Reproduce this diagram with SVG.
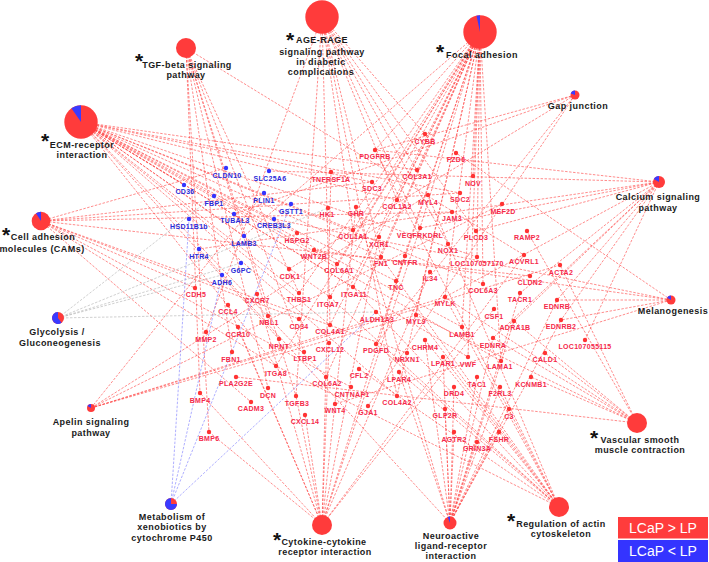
<svg xmlns="http://www.w3.org/2000/svg" width="709" height="562" viewBox="0 0 709 562">
<style>
.e line{stroke:#ff4040;stroke-width:0.75;stroke-dasharray:2.5 1.5;stroke-opacity:0.8}
.eb line{stroke:#7a7aff}
.eg line{stroke:#b0b0b0}
.gr circle{fill:#ff3333}
.gr text{fill:#f5284a}
.gb circle{fill:#3333ff}
.gb text{fill:#2a2ad8}
.g text{font-family:"Liberation Sans",Arial,sans-serif;font-weight:bold;font-size:7px;letter-spacing:0.3px;text-anchor:middle}
.hl{font-family:"Liberation Sans",Arial,sans-serif;font-weight:bold;font-size:9px;letter-spacing:0.45px;fill:#1a1a1a;text-anchor:middle}
.st{font-family:"Liberation Sans",Arial,sans-serif;font-weight:bold;font-size:21px;fill:#111;text-anchor:middle}
.hr{fill:#ff3b3b}
.hb{fill:#3a3aff}
.lg{font-family:"Liberation Sans",Arial,sans-serif;font-size:14px;fill:#fff;text-anchor:middle}
</style>
<rect width="709" height="562" fill="#fff"/>
<g id="connectors">
<g class="e" id="e-tgf">
<line x1="186" y1="48" x2="200" y2="393"/><line x1="186" y1="48" x2="209" y2="432"/><line x1="186" y1="48" x2="296" y2="396"/><line x1="186" y1="48" x2="268" y2="388"/><line x1="186" y1="48" x2="299" y2="293"/><line x1="186" y1="48" x2="304" y2="352"/><line x1="186" y1="48" x2="268" y2="316"/><line x1="186" y1="48" x2="232" y2="352"/><line x1="186" y1="48" x2="524" y2="255"/>
</g>
<g class="e" id="e-age">
<line x1="322" y1="17" x2="206" y2="332"/><line x1="322" y1="17" x2="296" y2="396"/><line x1="322" y1="17" x2="330" y2="325"/><line x1="322" y1="17" x2="397" y2="396"/><line x1="322" y1="17" x2="353" y2="230"/><line x1="322" y1="17" x2="397" y2="200"/><line x1="322" y1="17" x2="417" y2="170"/><line x1="322" y1="17" x2="420" y2="228"/><line x1="322" y1="17" x2="425" y2="134"/><line x1="322" y1="17" x2="476" y2="231"/><line x1="322" y1="17" x2="381" y2="257"/><line x1="322" y1="17" x2="448" y2="244"/>
</g>
<g class="e" id="e-focal">
<line x1="480" y1="32" x2="353" y2="230"/><line x1="480" y1="32" x2="397" y2="200"/><line x1="480" y1="32" x2="417" y2="170"/><line x1="480" y1="32" x2="330" y2="325"/><line x1="480" y1="32" x2="397" y2="396"/><line x1="480" y1="32" x2="337" y2="264"/><line x1="480" y1="32" x2="326" y2="377"/><line x1="480" y1="32" x2="483" y2="284"/><line x1="480" y1="32" x2="381" y2="257"/><line x1="480" y1="32" x2="396" y2="281"/><line x1="480" y1="32" x2="299" y2="293"/><line x1="480" y1="32" x2="330" y2="297"/><line x1="480" y1="32" x2="276" y2="366"/><line x1="480" y1="32" x2="353" y2="287"/><line x1="480" y1="32" x2="462" y2="327"/><line x1="480" y1="32" x2="501" y2="361"/><line x1="480" y1="32" x2="244" y2="236"/><line x1="480" y1="32" x2="468" y2="357"/><line x1="480" y1="32" x2="375" y2="150"/><line x1="480" y1="32" x2="376" y2="344"/><line x1="480" y1="32" x2="420" y2="228"/><line x1="480" y1="32" x2="445" y2="297"/><line x1="480" y1="32" x2="416" y2="315"/><line x1="480" y1="32" x2="473" y2="176"/><line x1="480" y1="32" x2="477" y2="257"/>
</g>
<g class="e" id="e-gap">
<line x1="575" y1="95" x2="368" y2="406"/><line x1="575" y1="95" x2="375" y2="150"/><line x1="575" y1="95" x2="376" y2="344"/><line x1="575" y1="95" x2="234" y2="214"/><line x1="575" y1="95" x2="289" y2="269"/>
</g>
<g class="e" id="e-ecm">
<line x1="81" y1="122" x2="353" y2="230"/><line x1="81" y1="122" x2="397" y2="200"/><line x1="81" y1="122" x2="417" y2="170"/><line x1="81" y1="122" x2="330" y2="325"/><line x1="81" y1="122" x2="397" y2="396"/><line x1="81" y1="122" x2="337" y2="264"/><line x1="81" y1="122" x2="326" y2="377"/><line x1="81" y1="122" x2="483" y2="284"/><line x1="81" y1="122" x2="381" y2="257"/><line x1="81" y1="122" x2="396" y2="281"/><line x1="81" y1="122" x2="299" y2="293"/><line x1="81" y1="122" x2="330" y2="297"/><line x1="81" y1="122" x2="276" y2="366"/><line x1="81" y1="122" x2="353" y2="287"/><line x1="81" y1="122" x2="462" y2="327"/><line x1="81" y1="122" x2="501" y2="361"/><line x1="81" y1="122" x2="468" y2="357"/><line x1="81" y1="122" x2="297" y2="233"/><line x1="81" y1="122" x2="460" y2="193"/><line x1="81" y1="122" x2="372" y2="182"/><line x1="81" y1="122" x2="279" y2="339"/><line x1="81" y1="122" x2="477" y2="257"/><line x1="81" y1="122" x2="244" y2="236"/><line x1="81" y1="122" x2="184" y2="185"/>
</g>
<g class="e" id="e-cam">
<line x1="41" y1="221" x2="226" y2="168"/><line x1="41" y1="221" x2="530" y2="276"/><line x1="41" y1="221" x2="195" y2="288"/><line x1="41" y1="221" x2="452" y2="212"/><line x1="41" y1="221" x2="460" y2="193"/><line x1="41" y1="221" x2="372" y2="182"/><line x1="41" y1="221" x2="299" y2="319"/><line x1="41" y1="221" x2="351" y2="387"/><line x1="41" y1="221" x2="407" y2="353"/><line x1="41" y1="221" x2="251" y2="402"/><line x1="41" y1="221" x2="276" y2="366"/>
</g>
<g class="e" id="e-calcium">
<line x1="659" y1="182" x2="514" y2="321"/><line x1="659" y1="182" x2="493" y2="338"/><line x1="659" y1="182" x2="557" y2="300"/><line x1="659" y1="182" x2="561" y2="320"/><line x1="659" y1="182" x2="520" y2="293"/><line x1="659" y1="182" x2="476" y2="231"/><line x1="659" y1="182" x2="375" y2="150"/><line x1="659" y1="182" x2="420" y2="228"/><line x1="659" y1="182" x2="445" y2="297"/><line x1="659" y1="182" x2="585" y2="340"/><line x1="659" y1="182" x2="199" y2="249"/><line x1="659" y1="182" x2="269" y2="171"/>
</g>
<g class="e eg" id="e-glyco">
<line x1="58" y1="318" x2="328" y2="208"/><line x1="58" y1="318" x2="376" y2="312"/><line x1="58" y1="318" x2="214" y2="196"/><line x1="58" y1="318" x2="241" y2="263"/><line x1="58" y1="318" x2="222" y2="275"/>
</g>
<g class="e" id="e-melano">
<line x1="671" y1="300" x2="557" y2="300"/><line x1="671" y1="300" x2="561" y2="320"/><line x1="671" y1="300" x2="314" y2="250"/><line x1="671" y1="300" x2="335" y2="404"/><line x1="671" y1="300" x2="456" y2="153"/><line x1="671" y1="300" x2="274" y2="219"/>
</g>
<g class="e" id="e-apelin">
<line x1="91" y1="408" x2="502" y2="204"/><line x1="91" y1="408" x2="445" y2="297"/><line x1="91" y1="408" x2="416" y2="315"/><line x1="91" y1="408" x2="428" y2="195"/><line x1="91" y1="408" x2="560" y2="265"/><line x1="91" y1="408" x2="264" y2="193"/>
</g>
<g class="e" id="e-vsm">
<line x1="637" y1="423" x2="560" y2="265"/><line x1="637" y1="423" x2="545" y2="353"/><line x1="637" y1="423" x2="445" y2="297"/><line x1="637" y1="423" x2="416" y2="315"/><line x1="637" y1="423" x2="531" y2="377"/><line x1="637" y1="423" x2="493" y2="338"/><line x1="637" y1="423" x2="514" y2="321"/><line x1="637" y1="423" x2="527" y2="231"/><line x1="637" y1="423" x2="236" y2="377"/>
</g>
<g class="e eb" id="e-metab">
<line x1="171" y1="504" x2="376" y2="312"/><line x1="171" y1="504" x2="291" y2="204"/><line x1="171" y1="504" x2="189" y2="219"/><line x1="171" y1="504" x2="222" y2="275"/>
</g>
<g class="e" id="e-cyto">
<line x1="322" y1="525" x2="228" y2="305"/><line x1="322" y1="525" x2="238" y2="327"/><line x1="322" y1="525" x2="257" y2="294"/><line x1="322" y1="525" x2="329" y2="343"/><line x1="322" y1="525" x2="305" y2="415"/><line x1="322" y1="525" x2="379" y2="237"/><line x1="322" y1="525" x2="430" y2="272"/><line x1="322" y1="525" x2="494" y2="309"/><line x1="322" y1="525" x2="331" y2="172"/><line x1="322" y1="525" x2="356" y2="207"/><line x1="322" y1="525" x2="405" y2="256"/><line x1="322" y1="525" x2="200" y2="393"/><line x1="322" y1="525" x2="209" y2="432"/><line x1="322" y1="525" x2="296" y2="396"/><line x1="322" y1="525" x2="524" y2="255"/><line x1="322" y1="525" x2="420" y2="228"/>
</g>
<g class="e" id="e-neuro">
<line x1="450" y1="523" x2="425" y2="340"/><line x1="450" y1="523" x2="454" y2="387"/><line x1="450" y1="523" x2="520" y2="293"/><line x1="450" y1="523" x2="477" y2="377"/><line x1="450" y1="523" x2="493" y2="338"/><line x1="450" y1="523" x2="557" y2="300"/><line x1="450" y1="523" x2="561" y2="320"/><line x1="450" y1="523" x2="514" y2="321"/><line x1="450" y1="523" x2="443" y2="357"/><line x1="450" y1="523" x2="399" y2="372"/><line x1="450" y1="523" x2="500" y2="387"/><line x1="450" y1="523" x2="445" y2="409"/><line x1="450" y1="523" x2="454" y2="432"/><line x1="450" y1="523" x2="499" y2="432"/><line x1="450" y1="523" x2="477" y2="442"/><line x1="450" y1="523" x2="356" y2="207"/><line x1="450" y1="523" x2="509" y2="409"/><line x1="450" y1="523" x2="199" y2="249"/>
</g>
<g class="e" id="e-actin">
<line x1="559" y1="507" x2="359" y2="369"/><line x1="559" y1="507" x2="445" y2="297"/><line x1="559" y1="507" x2="416" y2="315"/><line x1="559" y1="507" x2="428" y2="195"/><line x1="559" y1="507" x2="500" y2="387"/><line x1="559" y1="507" x2="443" y2="357"/><line x1="559" y1="507" x2="399" y2="372"/><line x1="559" y1="507" x2="425" y2="340"/><line x1="559" y1="507" x2="381" y2="257"/><line x1="559" y1="507" x2="330" y2="297"/><line x1="559" y1="507" x2="276" y2="366"/><line x1="559" y1="507" x2="353" y2="287"/><line x1="559" y1="507" x2="375" y2="150"/><line x1="559" y1="507" x2="376" y2="344"/>
</g>
</g>

<g id="hub-tgf"><circle class="hr" cx="186" cy="48" r="10"/><text class="st" x="139" y="67.5">*</text><text class="hl" x="187" y="67.5">TGF-beta signaling</text><text class="hl" x="186" y="78">pathway</text></g>
<g id="hub-age"><circle class="hr" cx="322" cy="17" r="16.7"/><text class="st" x="290" y="46.5">*</text><text class="hl" x="322" y="43">AGE-RAGE</text><text class="hl" x="322" y="54.5">signaling pathway</text><text class="hl" x="321" y="64.5">in diabetic</text><text class="hl" x="321" y="74.5">complications</text></g>
<g id="hub-focal"><circle class="hr" cx="480" cy="32" r="16.7"/><path class="hb" d="M480,32 L476.53,15.67 A16.7,16.7 0 0 1 480,15.3 Z"/><text class="st" x="440" y="59">*</text><text class="hl" x="482" y="57.5">Focal adhesion</text></g>
<g id="hub-gap"><circle class="hr" cx="575" cy="95" r="4.5"/><path class="hb" d="M575,95 L570.72,93.61 A4.5,4.5 0 0 1 575,90.5 Z"/><text class="hl" x="578" y="108.5">Gap junction</text></g>
<g id="hub-ecm"><circle class="hr" cx="81" cy="122" r="16.7"/><path class="hb" d="M81,122 L71.42,108.32 A16.7,16.7 0 0 1 81,105.3 Z"/><text class="st" x="45" y="147.5">*</text><text class="hl" x="82" y="147.5">ECM-receptor</text><text class="hl" x="82" y="157.5">interaction</text></g>
<g id="hub-cam"><circle class="hr" cx="41" cy="221" r="9.3"/><path class="hb" d="M41,221 L35.94,213.2 A9.3,9.3 0 0 1 41,211.7 Z"/><text class="st" x="6" y="241.5">*</text><text class="hl" x="43" y="240">Cell adhesion</text><text class="hl" x="42" y="251.5">molecules (CAMs)</text></g>
<g id="hub-calcium"><circle class="hr" cx="659" cy="182" r="6"/><path class="hb" d="M659,182 L653.8,179 A6,6 0 0 1 659,176 Z"/><text class="hl" x="658" y="200">Calcium signaling</text><text class="hl" x="658" y="211">pathway</text></g>
<g id="hub-glyco"><circle class="hr" cx="58" cy="318" r="6"/><path class="hb" d="M58,318 L61.53,322.85 A6,6 0 1 1 58,312 Z"/><text class="hl" x="57" y="335">Glycolysis /</text><text class="hl" x="60" y="345.5">Gluconeogenesis</text></g>
<g id="hub-melano"><circle class="hr" cx="671" cy="300" r="4.5"/><path class="hb" d="M671,300 L667.1,297.75 A4.5,4.5 0 0 1 671,295.5 Z"/><text class="hl" x="673" y="314">Melanogenesis</text></g>
<g id="hub-apelin"><circle class="hr" cx="91" cy="408" r="4"/><path class="hb" d="M91,408 L87.54,406 A4,4 0 0 1 91,404 Z"/><text class="hl" x="91" y="425">Apelin signaling</text><text class="hl" x="91" y="436">pathway</text></g>
<g id="hub-vsm"><circle class="hr" cx="637" cy="423" r="10"/><text class="st" x="594" y="445">*</text><text class="hl" x="640" y="443">Vascular smooth</text><text class="hl" x="640" y="453">muscle contraction</text></g>
<g id="hub-metab"><circle class="hr" cx="171" cy="504" r="6"/><path class="hb" d="M171,504 L177,504 A6,6 0 1 1 171,498 Z"/><text class="hl" x="172" y="519.5">Metabolism of</text><text class="hl" x="172" y="530">xenobiotics by</text><text class="hl" x="172" y="540.5">cytochrome P450</text></g>
<g id="hub-cyto"><circle class="hr" cx="322" cy="525" r="10"/><text class="st" x="277" y="546.5">*</text><text class="hl" x="324" y="545">Cytokine-cytokine</text><text class="hl" x="325" y="555">receptor interaction</text></g>
<g id="hub-neuro"><circle class="hr" cx="450" cy="523" r="6.5"/><path class="hb" d="M450,523 L447.78,516.89 A6.5,6.5 0 0 1 450,516.5 Z"/><text class="hl" x="451" y="539">Neuroactive</text><text class="hl" x="451" y="549">ligand-receptor</text><text class="hl" x="451" y="559">interaction</text></g>
<g id="hub-actin"><circle class="hr" cx="559" cy="507" r="10"/><text class="st" x="511" y="528">*</text><text class="hl" x="561" y="527">Regulation of actin</text><text class="hl" x="561" y="537">cytoskeleton</text></g>

<g class="g gb" id="n-CLDN10"><circle cx="226" cy="168" r="2.2"/><text x="227" y="177.5">CLDN10</text></g>
<g class="g gb" id="n-SLC25A6"><circle cx="269" cy="171" r="2.2"/><text x="270" y="180.5">SLC25A6</text></g>
<g class="g gb" id="n-CD36"><circle cx="184" cy="185" r="2.2"/><text x="185" y="193.5">CD36</text></g>
<g class="g gb" id="n-FBP1"><circle cx="214" cy="196" r="2.2"/><text x="214" y="205.5">FBP1</text></g>
<g class="g gb" id="n-PLIN1"><circle cx="264" cy="193" r="2.2"/><text x="264" y="202.5">PLIN1</text></g>
<g class="g gb" id="n-GSTT1"><circle cx="291" cy="204" r="2.2"/><text x="291" y="213.5">GSTT1</text></g>
<g class="g gb" id="n-HSD11B1b"><circle cx="189" cy="219" r="2.2"/><text x="189" y="228.5">HSD11B1b</text></g>
<g class="g gb" id="n-TUBAL3"><circle cx="234" cy="214" r="2.2"/><text x="235" y="222.5">TUBAL3</text></g>
<g class="g gb" id="n-CREB3L3"><circle cx="274" cy="219" r="2.2"/><text x="274" y="228">CREB3L3</text></g>
<g class="g gb" id="n-LAMB3"><circle cx="244" cy="236" r="2.2"/><text x="244" y="245.5">LAMB3</text></g>
<g class="g gb" id="n-HTR4"><circle cx="199" cy="249" r="2.2"/><text x="199" y="258.5">HTR4</text></g>
<g class="g gb" id="n-G6PC"><circle cx="241" cy="263" r="2.2"/><text x="241" y="272.5">G6PC</text></g>
<g class="g gb" id="n-ADH6"><circle cx="222" cy="275" r="2.2"/><text x="222" y="284.5">ADH6</text></g>

<g class="g gr" id="n-TNFRSF1A"><circle cx="331" cy="172" r="2.2"/><text x="331" y="181.5">TNFRSF1A</text></g>
<g class="g gr" id="n-HK1"><circle cx="328" cy="208" r="2.2"/><text x="327" y="216.5">HK1</text></g>
<g class="g gr" id="n-HSPG2"><circle cx="297" cy="233" r="2.2"/><text x="297" y="242.5">HSPG2</text></g>
<g class="g gr" id="n-WNT2B"><circle cx="314" cy="250" r="2.2"/><text x="314" y="259">WNT2B</text></g>
<g class="g gr" id="n-CDK1"><circle cx="289" cy="269" r="2.2"/><text x="290" y="279">CDK1</text></g>
<g class="g gr" id="n-COL6A1"><circle cx="337" cy="264" r="2.2"/><text x="339" y="273">COL6A1</text></g>
<g class="g gr" id="n-CDH5"><circle cx="195" cy="288" r="2.2"/><text x="196" y="296.5">CDH5</text></g>
<g class="g gr" id="n-THBS1"><circle cx="299" cy="293" r="2.2"/><text x="299" y="301.5">THBS1</text></g>
<g class="g gr" id="n-CXCR7"><circle cx="257" cy="294" r="2.2"/><text x="257" y="303">CXCR7</text></g>
<g class="g gr" id="n-ITGA7"><circle cx="330" cy="297" r="2.2"/><text x="328" y="307">ITGA7</text></g>
<g class="g gr" id="n-CCL4"><circle cx="228" cy="305" r="2.2"/><text x="228" y="314">CCL4</text></g>
<g class="g gr" id="n-NBL1"><circle cx="268" cy="316" r="2.2"/><text x="269" y="325">NBL1</text></g>
<g class="g gr" id="n-CD34"><circle cx="299" cy="319" r="2.2"/><text x="299" y="328.5">CD34</text></g>
<g class="g gr" id="n-COL4A1"><circle cx="330" cy="325" r="2.2"/><text x="330" y="334">COL4A1</text></g>
<g class="g gr" id="n-CCR10"><circle cx="238" cy="327" r="2.2"/><text x="238" y="336.5">CCR10</text></g>
<g class="g gr" id="n-MMP2"><circle cx="206" cy="332" r="2.2"/><text x="206" y="341.5">MMP2</text></g>
<g class="g gr" id="n-NPNT"><circle cx="279" cy="339" r="2.2"/><text x="279" y="348.5">NPNT</text></g>
<g class="g gr" id="n-CXCL12"><circle cx="329" cy="343" r="2.2"/><text x="330" y="351.5">CXCL12</text></g>
<g class="g gr" id="n-FBN1"><circle cx="232" cy="352" r="2.2"/><text x="231" y="361.5">FBN1</text></g>
<g class="g gr" id="n-LTBP1"><circle cx="304" cy="352" r="2.2"/><text x="305" y="361">LTBP1</text></g>
<g class="g gr" id="n-ITGA8"><circle cx="276" cy="366" r="2.2"/><text x="276" y="375.5">ITGA8</text></g>
<g class="g gr" id="n-PLA2G2E"><circle cx="236" cy="377" r="2.2"/><text x="236" y="386">PLA2G2E</text></g>
<g class="g gr" id="n-COL6A2"><circle cx="326" cy="377" r="2.2"/><text x="327" y="386">COL6A2</text></g>
<g class="g gr" id="n-CFL2"><circle cx="359" cy="369" r="2.2"/><text x="359" y="378">CFL2</text></g>
<g class="g gr" id="n-LPAR4"><circle cx="399" cy="372" r="2.2"/><text x="399" y="381.5">LPAR4</text></g>
<g class="g gr" id="n-BMP4"><circle cx="200" cy="393" r="2.2"/><text x="200" y="402.5">BMP4</text></g>
<g class="g gr" id="n-DCN"><circle cx="268" cy="388" r="2.2"/><text x="268" y="397.5">DCN</text></g>
<g class="g gr" id="n-CNTNAP1"><circle cx="351" cy="387" r="2.2"/><text x="352" y="396.5">CNTNAP1</text></g>
<g class="g gr" id="n-TGFB3"><circle cx="296" cy="396" r="2.2"/><text x="297" y="405.5">TGFB3</text></g>
<g class="g gr" id="n-COL4A2"><circle cx="397" cy="396" r="2.2"/><text x="397" y="405">COL4A2</text></g>
<g class="g gr" id="n-CADM3"><circle cx="251" cy="402" r="2.2"/><text x="251" y="411">CADM3</text></g>
<g class="g gr" id="n-WNT4"><circle cx="335" cy="404" r="2.2"/><text x="335" y="413">WNT4</text></g>
<g class="g gr" id="n-GJA1"><circle cx="368" cy="406" r="2.2"/><text x="368" y="415">GJA1</text></g>
<g class="g gr" id="n-CXCL14"><circle cx="305" cy="415" r="2.2"/><text x="305" y="424">CXCL14</text></g>
<g class="g gr" id="n-BMP6"><circle cx="209" cy="432" r="2.2"/><text x="209" y="441">BMP6</text></g>
<g class="g gr" id="n-CYBB"><circle cx="425" cy="134" r="2.2"/><text x="425" y="143.5">CYBB</text></g>
<g class="g gr" id="n-PDGFRB"><circle cx="375" cy="150" r="2.2"/><text x="375" y="159">PDGFRB</text></g>
<g class="g gr" id="n-FZD6"><circle cx="456" cy="153" r="2.2"/><text x="456" y="162">FZD6</text></g>
<g class="g gr" id="n-COL3A1"><circle cx="417" cy="170" r="2.2"/><text x="417" y="179">COL3A1</text></g>
<g class="g gr" id="n-NOV"><circle cx="473" cy="176" r="2.2"/><text x="473" y="185.5">NOV</text></g>
<g class="g gr" id="n-SDC3"><circle cx="372" cy="182" r="2.2"/><text x="372" y="191">SDC3</text></g>
<g class="g gr" id="n-SDC2"><circle cx="460" cy="193" r="2.2"/><text x="460" y="202">SDC2</text></g>
<g class="g gr" id="n-MYL4"><circle cx="428" cy="195" r="2.2"/><text x="428" y="204.5">MYL4</text></g>
<g class="g gr" id="n-COL1A2"><circle cx="397" cy="200" r="2.2"/><text x="397" y="209">COL1A2</text></g>
<g class="g gr" id="n-MEF2D"><circle cx="502" cy="204" r="2.2"/><text x="503" y="213.5">MEF2D</text></g>
<g class="g gr" id="n-GHR"><circle cx="356" cy="207" r="2.2"/><text x="356" y="216">GHR</text></g>
<g class="g gr" id="n-JAM3"><circle cx="452" cy="212" r="2.2"/><text x="452" y="220.5">JAM3</text></g>
<g class="g gr" id="n-COL1A1"><circle cx="353" cy="230" r="2.2"/><text x="353" y="238.5">COL1A1</text></g>
<g class="g gr" id="n-XCR1"><circle cx="379" cy="237" r="2.2"/><text x="379" y="247">XCR1</text></g>
<g class="g gr" id="n-VEGFRKDRL"><circle cx="420" cy="228" r="2.2"/><text x="420" y="238">VEGFRKDRL</text></g>
<g class="g gr" id="n-PLCD3"><circle cx="476" cy="231" r="2.2"/><text x="476" y="239.5">PLCD3</text></g>
<g class="g gr" id="n-NOX1"><circle cx="448" cy="244" r="2.2"/><text x="448" y="252.5">NOX1</text></g>
<g class="g gr" id="n-FN1"><circle cx="381" cy="257" r="2.2"/><text x="381" y="265.5">FN1</text></g>
<g class="g gr" id="n-CNTFR"><circle cx="405" cy="256" r="2.2"/><text x="405" y="265">CNTFR</text></g>
<g class="g gr" id="n-LOC107057170"><circle cx="477" cy="257" r="2.2"/><text x="477" y="265.5">LOC107057170</text></g>
<g class="g gr" id="n-IL34"><circle cx="430" cy="272" r="2.2"/><text x="430" y="280.5">IL34</text></g>
<g class="g gr" id="n-TNC"><circle cx="396" cy="281" r="2.2"/><text x="396" y="289.5">TNC</text></g>
<g class="g gr" id="n-COL6A3"><circle cx="483" cy="284" r="2.2"/><text x="483" y="293">COL6A3</text></g>
<g class="g gr" id="n-ITGA11"><circle cx="353" cy="287" r="2.2"/><text x="354" y="296.5">ITGA11</text></g>
<g class="g gr" id="n-MYLK"><circle cx="445" cy="297" r="2.2"/><text x="445" y="305.5">MYLK</text></g>
<g class="g gr" id="n-CSF1"><circle cx="494" cy="309" r="2.2"/><text x="494" y="318.5">CSF1</text></g>
<g class="g gr" id="n-ALDH1A3"><circle cx="376" cy="312" r="2.2"/><text x="377" y="321.5">ALDH1A3</text></g>
<g class="g gr" id="n-MYL9"><circle cx="416" cy="315" r="2.2"/><text x="416" y="323.5">MYL9</text></g>
<g class="g gr" id="n-LAMB1"><circle cx="462" cy="327" r="2.2"/><text x="462" y="336.5">LAMB1</text></g>
<g class="g gr" id="n-EDNRA"><circle cx="493" cy="338" r="2.2"/><text x="493" y="347.5">EDNRA</text></g>
<g class="g gr" id="n-CHRM4"><circle cx="425" cy="340" r="2.2"/><text x="425" y="349.5">CHRM4</text></g>
<g class="g gr" id="n-PDGFD"><circle cx="376" cy="344" r="2.2"/><text x="376" y="352.5">PDGFD</text></g>
<g class="g gr" id="n-NRXN1"><circle cx="407" cy="353" r="2.2"/><text x="407" y="362">NRXN1</text></g>
<g class="g gr" id="n-LPAR1"><circle cx="443" cy="357" r="2.2"/><text x="443" y="366">LPAR1</text></g>
<g class="g gr" id="n-VWF"><circle cx="468" cy="357" r="2.2"/><text x="468" y="366.5">VWF</text></g>
<g class="g gr" id="n-LAMA1"><circle cx="501" cy="361" r="2.2"/><text x="500" y="369">LAMA1</text></g>
<g class="g gr" id="n-TAC1"><circle cx="477" cy="377" r="2.2"/><text x="477" y="386.5">TAC1</text></g>
<g class="g gr" id="n-RAMP2"><circle cx="527" cy="231" r="2.2"/><text x="527" y="240">RAMP2</text></g>
<g class="g gr" id="n-ACVRL1"><circle cx="524" cy="255" r="2.2"/><text x="524" y="264">ACVRL1</text></g>
<g class="g gr" id="n-ACTA2"><circle cx="560" cy="265" r="2.2"/><text x="561" y="274.5">ACTA2</text></g>
<g class="g gr" id="n-CLDN2"><circle cx="530" cy="276" r="2.2"/><text x="530" y="284.5">CLDN2</text></g>
<g class="g gr" id="n-TACR1"><circle cx="520" cy="293" r="2.2"/><text x="520" y="302">TACR1</text></g>
<g class="g gr" id="n-EDNRB"><circle cx="557" cy="300" r="2.2"/><text x="557" y="309">EDNRB</text></g>
<g class="g gr" id="n-ADRA1B"><circle cx="514" cy="321" r="2.2"/><text x="515" y="329.5">ADRA1B</text></g>
<g class="g gr" id="n-EDNRB2"><circle cx="561" cy="320" r="2.2"/><text x="561" y="329">EDNRB2</text></g>
<g class="g gr" id="n-LOC107055115"><circle cx="585" cy="340" r="2.2"/><text x="585" y="348.5">LOC107055115</text></g>
<g class="g gr" id="n-CALD1"><circle cx="545" cy="353" r="2.2"/><text x="545" y="361.5">CALD1</text></g>
<g class="g gr" id="n-KCNMB1"><circle cx="531" cy="377" r="2.2"/><text x="531" y="386.5">KCNMB1</text></g>
<g class="g gr" id="n-F2RL3"><circle cx="500" cy="387" r="2.2"/><text x="500" y="395.5">F2RL3</text></g>
<g class="g gr" id="n-DRD4"><circle cx="454" cy="387" r="2.2"/><text x="454" y="395.5">DRD4</text></g>
<g class="g gr" id="n-GLP2R"><circle cx="445" cy="409" r="2.2"/><text x="445" y="418">GLP2R</text></g>
<g class="g gr" id="n-C3"><circle cx="509" cy="409" r="2.2"/><text x="509" y="418.5">C3</text></g>
<g class="g gr" id="n-AGTR2"><circle cx="454" cy="432" r="2.2"/><text x="454" y="441.5">AGTR2</text></g>
<g class="g gr" id="n-FSHR"><circle cx="499" cy="432" r="2.2"/><text x="499" y="441.5">FSHR</text></g>
<g class="g gr" id="n-GRIN3A"><circle cx="477" cy="442" r="2.2"/><text x="477" y="450.5">GRIN3A</text></g>

<g id="legend">
<rect x="618" y="517" width="90" height="21.5" fill="#ff3c3c"/>
<rect x="618" y="540" width="90" height="22" fill="#3434ff"/>
<text class="lg" x="663" y="533">LCaP &gt; LP</text>
<text class="lg" x="663" y="556">LCaP &lt; LP</text>
</g>
</svg>
